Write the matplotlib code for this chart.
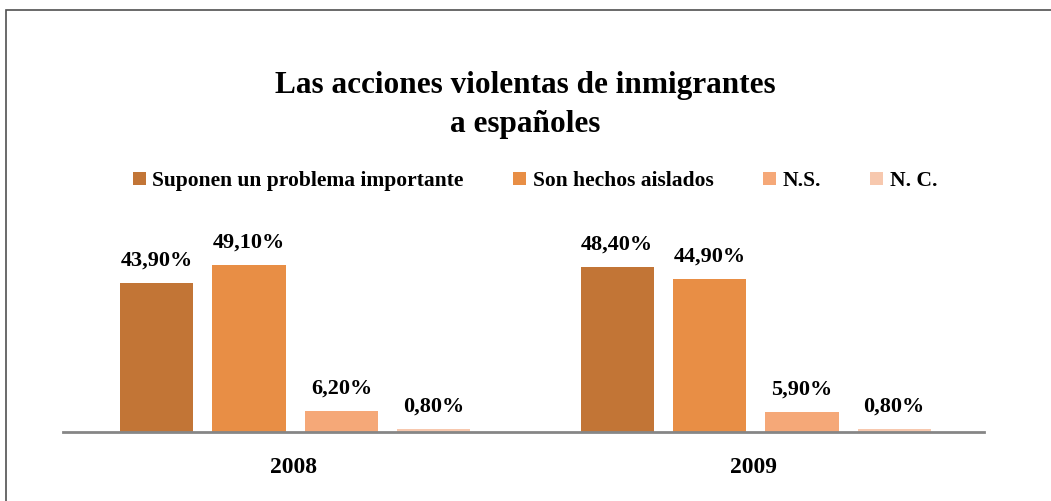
import matplotlib.pyplot as plt
import numpy as np
from matplotlib.patches import Rectangle

years = ['2008', '2009']
series = ['Suponen un problema importante', 'Son hechos aislados', 'N.S.', 'N. C.']
values = [
    [43.9, 48.4],
    [49.1, 44.9],
    [6.2, 5.9],
    [0.8, 0.8],
]
labels = [
    ['43,90%', '48,40%'],
    ['49,10%', '44,90%'],
    ['6,20%', '5,90%'],
    ['0,80%', '0,80%'],
]
colors = ['#C27536', '#E88E45', '#F5A878', '#F7C8AE']

plt.rcParams['font.family'] = ['Liberation Serif', 'DejaVu Serif']
plt.rcParams['font.weight'] = 'bold'

fig = plt.figure(figsize=(10.51, 5.01), dpi=100)
W, H = 1051, 501

# outer frame (top and left edges visible)
fig.add_artist(Rectangle((6 / W, -0.1), 1.2, 1 - 10 / H + 0.1, transform=fig.transFigure,
                         fill=False, edgecolor='#505050', linewidth=1.2))

ax = fig.add_axes([63 / W, (H - 432) / H, (984 - 63) / W, 204 / H])

x = np.arange(len(years))
width = 73 / 459
step = 92 / 459
shift = 2 / 459
for i, (vals, lab, c) in enumerate(zip(values, labels, colors)):
    pos = x + (i - 1.5) * step + shift
    bars = ax.bar(pos, vals, width, color=c, label=series[i])
    for b, t in zip(bars, lab):
        ax.annotate(t, (b.get_x() + b.get_width() / 2, b.get_height()),
                    xytext=(0, 9), textcoords='offset points',
                    ha='center', va='bottom', fontsize=16, fontweight='bold')

ax.set_xlim(-0.5, 1.5)
ax.set_ylim(0, 60)
ax.set_xticks(x)
ax.set_xticklabels(years, fontsize=17, fontweight='bold')
ax.tick_params(axis='x', length=0, pad=18)
ax.set_yticks([])
for s in ['top', 'right', 'left']:
    ax.spines[s].set_visible(False)
ax.spines['bottom'].set_color('#868686')
ax.spines['bottom'].set_linewidth(2)

fig.text(525 / W, 1 - 85 / H, 'Las acciones violentas de inmigrantes', ha='center', va='center',
         fontsize=22.5, fontweight='bold')
fig.text(525 / W, 1 - 125 / H, 'a españoles', ha='center', va='center',
         fontsize=22.5, fontweight='bold')

fig.legend(loc='center', bbox_to_anchor=(535 / W, 1 - 181 / H), ncol=4, frameon=False,
           prop={'size': 15.5, 'weight': 'bold'}, handlelength=0.6, handleheight=0.6,
           handletextpad=0.3, columnspacing=2.3)

fig.savefig('out.png', dpi=100)
